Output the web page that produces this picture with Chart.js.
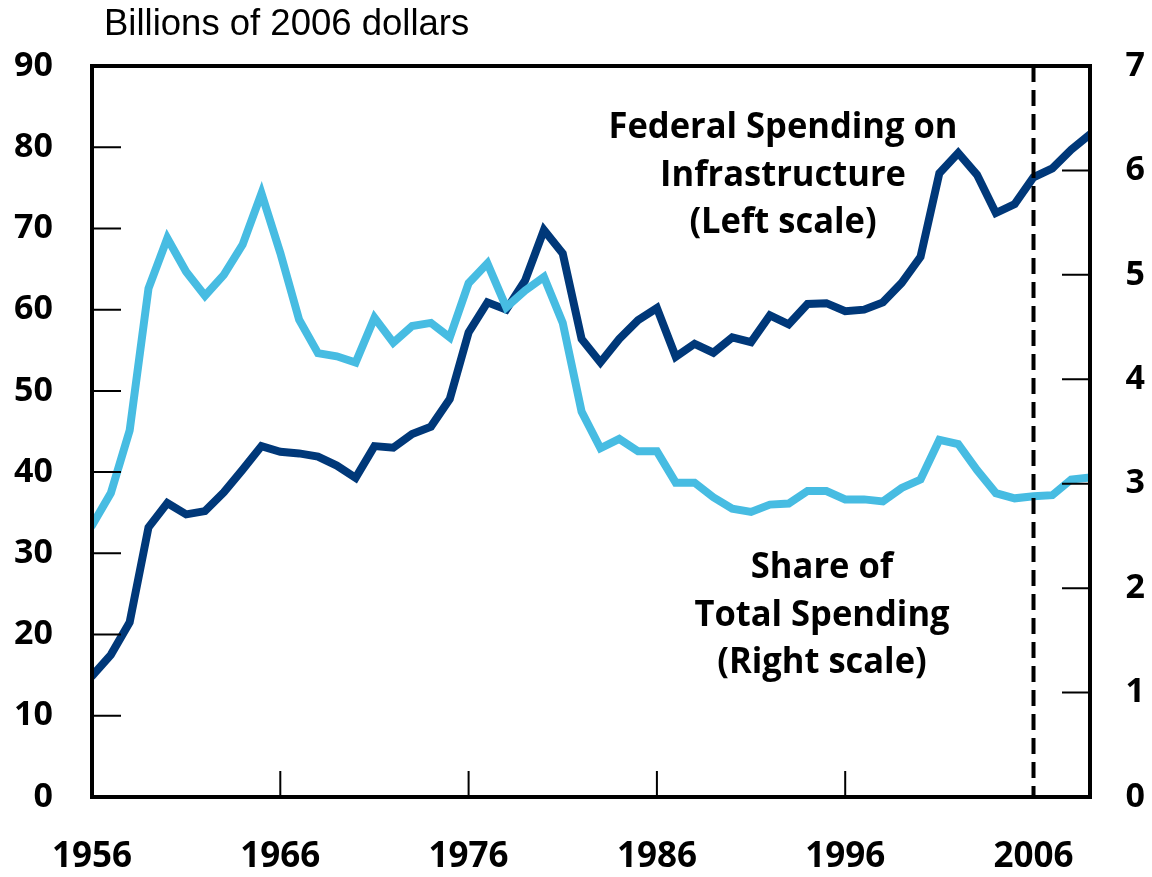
<!DOCTYPE html>
<html>
<head>
<meta charset="utf-8">
<script src="https://cdn.jsdelivr.net/npm/chart.js@4/dist/chart.umd.min.js"></script>
<style>
  html, body { margin: 0; padding: 0; background: #fff; }
  #wrap { width: 1152px; height: 877px; }
</style>
</head>
<body>
<div id="wrap"><canvas id="infraChart" width="1152" height="877"></canvas></div>
<script>
const years = [1956, 1957, 1958, 1959, 1960, 1961, 1962, 1963, 1964, 1965,
               1966, 1967, 1968, 1969, 1970, 1971, 1972, 1973, 1974, 1975,
               1976, 1977, 1978, 1979, 1980, 1981, 1982, 1983, 1984, 1985,
               1986, 1987, 1988, 1989, 1990, 1991, 1992, 1993, 1994, 1995,
               1996, 1997, 1998, 1999, 2000, 2001, 2002, 2003, 2004, 2005,
               2006, 2007, 2008, 2009];

// billions of 2006 dollars (left scale)
const federalSpending = [14.9, 17.5, 21.5, 33.2, 36.2, 34.8, 35.2, 37.5, 40.3, 43.2,
                         42.5, 42.3, 41.9, 40.8, 39.3, 43.2, 43.0, 44.7, 45.6, 49.0,
                         57.2, 60.9, 60.0, 63.6, 69.8, 66.9, 56.4, 53.5, 56.4, 58.7,
                         60.2, 54.2, 55.8, 54.7, 56.6, 56.0, 59.3, 58.2, 60.7, 60.8,
                         59.8, 60.0, 60.9, 63.3, 66.5, 76.8, 79.3, 76.6, 71.9, 73.0,
                         76.3, 77.4, 79.7, 81.6];

// percent of total spending (right scale)
const shareOfTotal = [2.60, 2.91, 3.51, 4.87, 5.35, 5.03, 4.80, 5.00, 5.29, 5.78,
                      5.21, 4.57, 4.25, 4.22, 4.16, 4.59, 4.35, 4.51, 4.54, 4.40,
                      4.92, 5.11, 4.69, 4.85, 4.98, 4.54, 3.69, 3.34, 3.43, 3.31,
                      3.31, 3.01, 3.01, 2.87, 2.76, 2.73, 2.80, 2.81, 2.93, 2.93,
                      2.85, 2.85, 2.83, 2.96, 3.04, 3.42, 3.38, 3.13, 2.91, 2.86,
                      2.88, 2.89, 3.04, 3.06];

const xTickLabels = [1956, 1966, 1976, 1986, 1996, 2006];
const dashedYear = 2006;

const boldFont = "'Open Sans', 'Noto Sans', sans-serif";

// box, inward ticks, dashed 2006 line and the text labels
const decorPlugin = {
    id: 'decor',
    afterDatasetsDraw(chart) {
        const ctx = chart.ctx;
        const a = chart.chartArea;
        const x = chart.scales.x, yL = chart.scales.y, yR = chart.scales.y1;
        ctx.save();

        // inward ticks
        ctx.strokeStyle = '#000';
        ctx.lineWidth = 2;
        ctx.beginPath();
        yL.ticks.forEach(t => {
            const py = yL.getPixelForValue(t.value);
            ctx.moveTo(a.left, py); ctx.lineTo(a.left + 29, py);
        });
        yR.ticks.forEach(t => {
            const py = yR.getPixelForValue(t.value);
            ctx.moveTo(a.right, py); ctx.lineTo(a.right - 28, py);
        });
        x.ticks.forEach(t => {
            if (t.value === 1956 || t.value === dashedYear) return;
            const px = x.getPixelForValue(t.value);
            ctx.moveTo(px, a.bottom); ctx.lineTo(px, a.bottom - 26);
        });
        ctx.stroke();

        // dashed line at 2006
        const dx = x.getPixelForValue(dashedYear);
        ctx.lineWidth = 4;
        ctx.setLineDash([16, 8]);
        ctx.beginPath();
        ctx.moveTo(dx, a.top);
        ctx.lineTo(dx, a.bottom);
        ctx.stroke();
        ctx.setLineDash([]);

        // frame
        ctx.lineWidth = 4;
        ctx.strokeRect(a.left, a.top, a.right - a.left, a.bottom - a.top);

        // unit title
        ctx.fillStyle = '#000';
        ctx.font = "36.5px 'Liberation Sans', Arial, sans-serif";
        ctx.textAlign = 'left';
        ctx.textBaseline = 'alphabetic';
        ctx.fillText('Billions of 2006 dollars', 104, 35);

        // series labels, condensed a bit
        ctx.font = 'bold 35px ' + boldFont;
        const squeeze = 349 / ctx.measureText('Federal Spending on').width;
        const block = (lines, cx, baselines) => {
            lines.forEach((s, i) => {
                ctx.save();
                ctx.translate(cx, baselines[i]);
                ctx.scale(squeeze, 1);
                ctx.textAlign = 'center';
                ctx.fillText(s, 0, 0);
                ctx.restore();
            });
        };
        block(['Federal Spending on', 'Infrastructure', '(Left scale)'], 783, [138, 186, 233]);
        block(['Share of', 'Total Spending', '(Right scale)'], 822, [578, 626, 673]);

        ctx.restore();
    }
};

const ctx = document.getElementById('infraChart').getContext('2d');
const infraChart = new Chart(ctx, {
    type: 'line',
    data: {
        datasets: [
            {
                label: 'Share of Total Spending (Right scale)',
                data: years.map((yr, i) => ({ x: yr, y: shareOfTotal[i] })),
                yAxisID: 'y1',
                borderColor: '#47bce2',
                borderWidth: 8,
                borderCapStyle: 'round',
                borderJoinStyle: 'miter',
                pointRadius: 0,
                tension: 0
            },
            {
                label: 'Federal Spending on Infrastructure (Left scale)',
                data: years.map((yr, i) => ({ x: yr, y: federalSpending[i] })),
                yAxisID: 'y',
                borderColor: '#003879',
                borderWidth: 8,
                borderCapStyle: 'round',
                borderJoinStyle: 'miter',
                pointRadius: 0,
                tension: 0
            }
        ]
    },
    options: {
        responsive: false,
        animation: false,
        devicePixelRatio: 1,
        layout: { padding: { top: 66, left: 0, right: 7, bottom: 0 } },
        plugins: {
            legend: { display: false },
            tooltip: { enabled: false }
        },
        scales: {
            x: {
                type: 'linear',
                min: 1956,
                max: 2009,
                grid: { display: false, drawTicks: false },
                border: { display: false },
                afterBuildTicks: scale => {
                    scale.ticks = xTickLabels.map(v => ({ value: v }));
                },
                afterFit: scale => { scale.height = 80; },
                ticks: {
                    color: '#000',
                    padding: 39,
                    maxRotation: 0,
                    autoSkip: false,
                    font: { family: boldFont, size: 35, weight: 'bold' },
                    callback: v => String(v)
                }
            },
            y: {
                position: 'left',
                min: 0,
                max: 90,
                grid: { display: false, drawTicks: false },
                border: { display: false },
                afterFit: scale => { scale.width = 92; },
                ticks: {
                    stepSize: 10,
                    color: '#000',
                    padding: 39,
                    font: { family: boldFont, size: 34, weight: 'bold' }
                }
            },
            y1: {
                position: 'right',
                min: 0,
                max: 7,
                grid: { display: false, drawTicks: false },
                border: { display: false },
                afterFit: scale => { scale.width = 55; },
                ticks: {
                    stepSize: 1,
                    color: '#000',
                    padding: 20,
                    crossAlign: 'far',
                    font: { family: boldFont, size: 34, weight: 'bold' }
                }
            }
        }
    },
    plugins: [decorPlugin]
});
</script>
</body>
</html>
